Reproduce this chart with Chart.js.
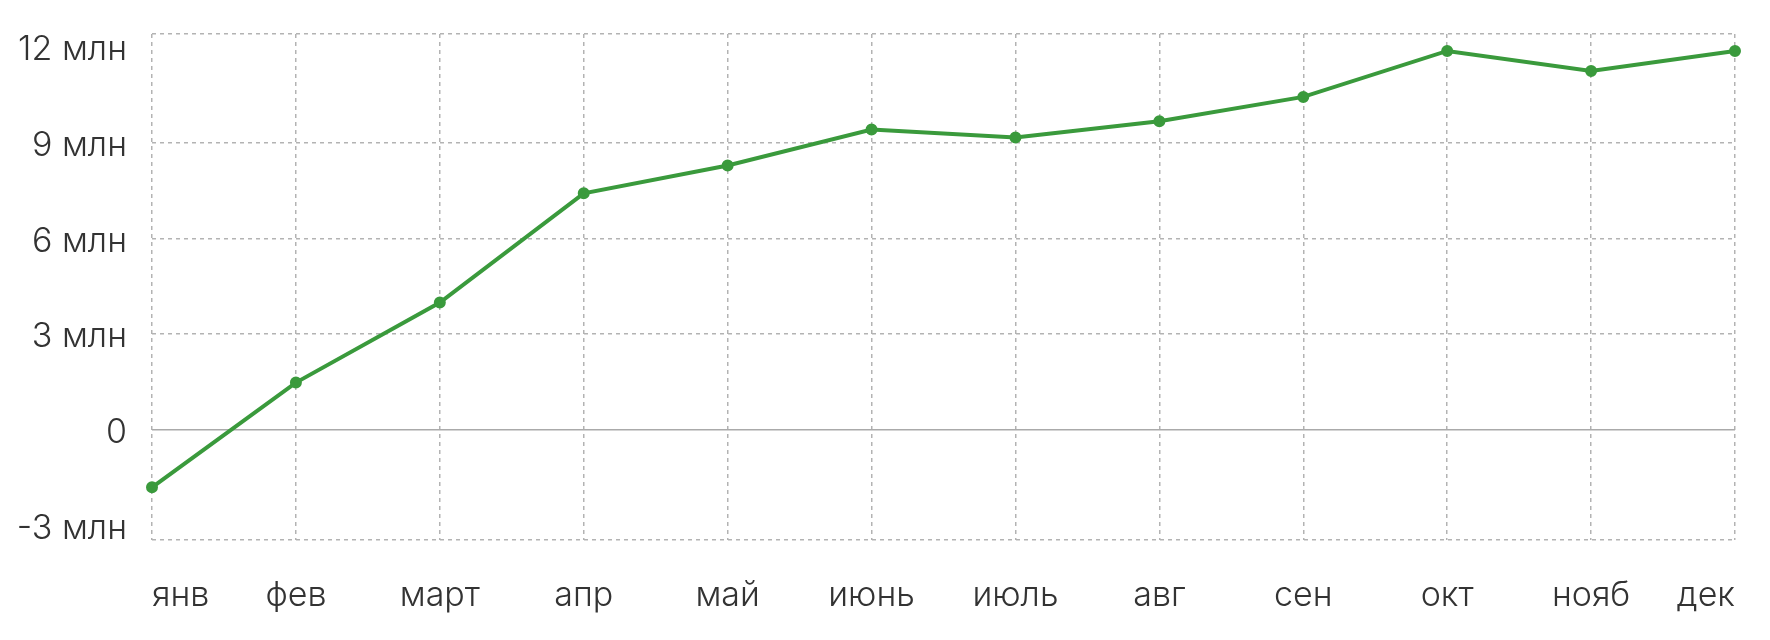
<!DOCTYPE html>
<html>
<head>
<meta charset="utf-8">
<script src="https://cdn.jsdelivr.net/npm/chart.js@4"></script>
<style>
  body { margin: 0; background: #fff; }
  .chart-container { width: 1770px; height: 640px; }
</style>
</head>
<body>
<div class="chart-container"><canvas id="c"></canvas></div>
<script>
const months = ['янв', 'фев', 'март', 'апр', 'май', 'июнь', 'июль', 'авг', 'сен', 'окт', 'нояб', 'дек'];
const values = [-1.8, 1.48, 3.99, 7.41, 8.28, 9.41, 9.16, 9.67, 10.43, 11.87, 11.24, 11.87]; // млн
const yTicks = [-3, 0, 3, 6, 9, 12];
const yMin = -3.45;
const yMax = 12.4;

const gridGrey = '#b3b3b3';
const font = { family: 'Inter', size: 34, weight: 300 };

new Chart(document.getElementById('c'), {
    type: 'line',
    data: {
        labels: months,
        datasets: [{
            data: values,
            borderColor: '#3a9a3c',
            backgroundColor: '#3a9a3c',
            borderWidth: 4,
            pointRadius: 4,
            pointHoverRadius: 4,
            tension: 0
        }]
    },
    options: {
        responsive: true,
        maintainAspectRatio: false,
        animation: false,
        layout: { padding: { top: 34, right: 33, left: 0, bottom: 0 } },
        plugins: {
            legend: { display: false },
            tooltip: { enabled: false }
        },
        scales: {
            x: {
                offset: false,
                grid: { color: gridGrey, lineWidth: 1.5, drawTicks: false },
                border: { display: false, dash: [4, 4] },
                ticks: { color: '#333', font: font, align: 'inner', padding: 35, maxRotation: 0 },
                afterFit: function(scale) { scale.height = 100; }
            },
            y: {
                min: yMin,
                max: yMax,
                afterBuildTicks: function(scale) {
                    scale.ticks = [yMin].concat(yTicks, [yMax]).map(function(v) { return { value: v }; });
                },
                grid: {
                    drawTicks: false,
                    lineWidth: 1.5,
                    color: function(ctx) {
                        const v = ctx.tick ? ctx.tick.value : null;
                        if (v === yMin || v === yMax) return gridGrey;
                        if (v === 3 || v === 6 || v === 9) return gridGrey;
                        return 'rgba(0,0,0,0)';
                    }
                },
                border: { display: false, dash: [4, 4] },
                ticks: {
                    color: '#333',
                    font: font,
                    padding: 25,
                    labelOffset: 3,
                    callback: function(v) {
                        if (yTicks.indexOf(v) < 0) return '';
                        return v === 0 ? '0' : v + ' млн';
                    }
                },
                afterFit: function(scale) {
                    scale.width = 152;
                    scale.paddingTop = 0;
                    scale.paddingBottom = 0;
                }
            },
            zero: {
                position: 'left',
                min: yMin,
                max: yMax,
                afterBuildTicks: function(scale) { scale.ticks = [{ value: 0 }]; },
                grid: { color: '#aaaaaa', lineWidth: 1.5, drawTicks: false },
                border: { display: false },
                ticks: { display: false },
                afterFit: function(scale) {
                    scale.width = 0;
                    scale.paddingTop = 0;
                    scale.paddingBottom = 0;
                }
            }
        }
    }
});
</script>
</body>
</html>
